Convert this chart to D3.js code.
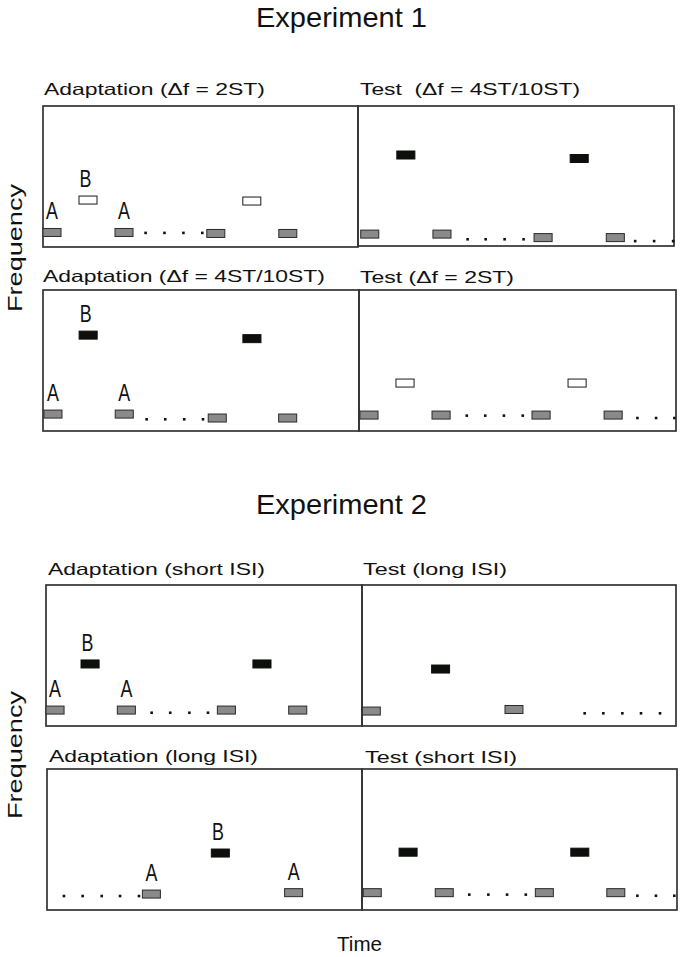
<!DOCTYPE html>
<html>
<head>
<meta charset="utf-8">
<script src="https://cdn.jsdelivr.net/npm/d3@7"></script>
<style>
  html, body { margin: 0; padding: 0; background: #fff; }
  svg { display: block; }
  text { font-family: "Liberation Sans", Arial, Helvetica, sans-serif; fill: #111; white-space: pre; }
</style>
</head>
<body>
<svg id="chart" width="685" height="957"></svg>
<script>
// ---------------- DATA ----------------
const experimentTitles = ["Experiment 1", "Experiment 2"];
const panelTitles = [
  "Adaptation (\u0394f = 2ST)",
  "Test  (\u0394f = 4ST/10ST)",
  "Adaptation (\u0394f = 4ST/10ST)",
  "Test (\u0394f = 2ST)",
  "Adaptation (short ISI)",
  "Test (long ISI)",
  "Adaptation (long ISI)",
  "Test (short ISI)"
];
const axisLabelY = "Frequency";
const axisLabelX = "Time";

// tone onset times (ms) and frequency levels (arbitrary units 0..10) per panel
const aTimes = [
  [0, 400, 910, 1310],
  [15, 415, 975, 1375],
  [5, 400, 915, 1305],
  [5, 403, 955, 1353],
  [0, 395, 949, 1344],
  [2, 797],
  [530, 1320],
  [7, 407, 963, 1360]
];
const aFreqs = [
  [1.03, 1.03, 0.96, 0.96],
  [0.85, 0.85, 0.6, 0.6],
  [1.2, 1.2, 0.92, 0.92],
  [1.13, 1.13, 1.13, 1.13],
  [1.13, 1.13, 1.13, 1.13],
  [1.06, 1.17],
  [1.13, 1.23],
  [1.23, 1.23, 1.23, 1.23]
];
const bTimes = [
  [200, 1110],
  [215, 1175],
  [200, 1107],
  [204, 1154],
  [194, 1146],
  [388],
  [913],
  [206, 1160]
];
const bFreqs = [
  [3.33, 3.26],
  [6.5, 6.25],
  [6.8, 6.55],
  [3.4, 3.4],
  [4.4, 4.4],
  [4.04],
  [4.04],
  [4.1, 4.1]
];
const bKinds = ["open", "filled", "filled", "open", "filled", "filled", "filled", "filled"];
const dotTimes = [
  [570, 675, 780, 885],
  [607, 707, 812, 917, 1535, 1640, 1745],
  [574, 677, 782, 886],
  [595, 697, 800, 904, 1537, 1640, 1741],
  [585, 688, 794, 897],
  [1241, 1345, 1451, 1555, 1661],
  [94, 198, 304, 406, 511],
  [596, 702, 806, 910, 1530, 1633, 1735]
];
const dotFreqs = [
  [1.0, 1.0, 1.0, 1.0],
  [0.48, 0.48, 0.48, 0.48, 0.35, 0.35, 0.35],
  [0.83, 0.83, 0.83, 0.83],
  [1.09, 1.09, 1.09, 1.09, 0.92, 0.92, 0.92],
  [0.94, 0.94, 0.94, 0.94],
  [0.9, 0.9, 0.9, 0.9, 0.9],
  [0.99, 0.99, 0.99, 0.99, 0.99],
  [1.09, 1.09, 1.09, 1.09, 1.01, 1.01, 1.01]
];
// which tones carry letter labels: [number of A tones labelled, number of B tones labelled]
const labelCounts = [[2, 1], [0, 0], [2, 1], [0, 0], [2, 1], [0, 0], [2, 1], [0, 0]];

const TIME_DOMAIN = [0, 1750];
const FREQ_DOMAIN = [0, 10];
const TONE_MS = 100;

// ---------------- LAYOUT / STYLE ----------------
const panelBoxes = [
  {l: 43, r: 358, t: 106, b: 247},
  {l: 358, r: 674, t: 106, b: 246},
  {l: 43, r: 359, t: 290, b: 431},
  {l: 359, r: 676, t: 290, b: 431},
  {l: 46, r: 362, t: 585, b: 726},
  {l: 362, r: 676, t: 585, b: 726},
  {l: 47, r: 362, t: 769, b: 910},
  {l: 362, r: 677, t: 769, b: 910}
];
const titlePos = [
  {x: 44, y: 95, len: 221},
  {x: 360, y: 95, len: 220},
  {x: 43, y: 282, len: 282},
  {x: 360, y: 283, len: 154},
  {x: 48, y: 575, len: 217},
  {x: 363, y: 575, len: 144},
  {x: 49, y: 762, len: 209},
  {x: 365, y: 763, len: 152}
];
const TONE_H = 8;
const style = {
  aFill: "#8a8a8a", aStroke: "#2a2a2a",
  openFill: "#ffffff", openStroke: "#1a1a1a",
  filledFill: "#0c0f0c", filledStroke: "#0c0f0c",
  border: "#333333"
};

const svg = d3.select("#chart");

// Experiment titles
svg.append("text").attr("x", 256).attr("y", 27)
  .attr("font-size", 28.5).attr("textLength", 171).attr("lengthAdjust", "spacingAndGlyphs")
  .text(experimentTitles[0]);
svg.append("text").attr("x", 256).attr("y", 514)
  .attr("font-size", 28.5).attr("textLength", 171).attr("lengthAdjust", "spacingAndGlyphs")
  .text(experimentTitles[1]);

// Frequency labels
[{cx: 22, cy: 248}, {cx: 22, cy: 755}].forEach(p => {
  svg.append("text")
    .attr("transform", `translate(${p.cx},${p.cy}) rotate(-90)`)
    .attr("x", -64).attr("y", 0)
    .attr("font-size", 19.5).attr("textLength", 128).attr("lengthAdjust", "spacingAndGlyphs")
    .text(axisLabelY);
});

// Time label
svg.append("text").attr("x", 337).attr("y", 951)
  .attr("font-size", 21).attr("textLength", 45).attr("lengthAdjust", "spacingAndGlyphs")
  .text(axisLabelX);

panelBoxes.forEach((box, i) => {
  const x = d3.scaleLinear().domain(TIME_DOMAIN).range([box.l, box.r]);
  const y = d3.scaleLinear().domain(FREQ_DOMAIN).range([box.b, box.t]);
  const g = svg.append("g");

  // title
  svg.append("text")
    .attr("x", titlePos[i].x).attr("y", titlePos[i].y)
    .attr("font-size", 16.5)
    .attr("textLength", titlePos[i].len).attr("lengthAdjust", "spacingAndGlyphs")
    .text(panelTitles[i]);

  // frame
  g.append("rect")
    .attr("x", box.l).attr("y", box.t)
    .attr("width", box.r - box.l).attr("height", box.b - box.t)
    .attr("fill", "none").attr("stroke", style.border).attr("stroke-width", 1.7);

  const aData = aTimes[i].map((t, k) => ({t, f: aFreqs[i][k], k}));
  const bData = bTimes[i].map((t, k) => ({t, f: bFreqs[i][k], k}));
  const dData = dotTimes[i].map((t, k) => ({t, f: dotFreqs[i][k]}));

  // A tones
  g.selectAll("rect.a").data(aData).join("rect").attr("class", "a")
    .attr("x", d => x(d.t)).attr("y", d => y(d.f) - TONE_H / 2)
    .attr("width", d => x(d.t + TONE_MS) - x(d.t)).attr("height", TONE_H)
    .attr("fill", style.aFill).attr("stroke", style.aStroke).attr("stroke-width", 1);

  // B tones
  const open = bKinds[i] === "open";
  g.selectAll("rect.b").data(bData).join("rect").attr("class", "b")
    .attr("x", d => x(d.t)).attr("y", d => y(d.f) - TONE_H / 2)
    .attr("width", d => x(d.t + TONE_MS) - x(d.t)).attr("height", TONE_H)
    .attr("fill", open ? style.openFill : style.filledFill)
    .attr("stroke", open ? style.openStroke : style.filledStroke).attr("stroke-width", 1);

  // dots
  g.selectAll("rect.dot").data(dData).join("rect").attr("class", "dot")
    .attr("x", d => x(d.t) - 1.3).attr("y", d => y(d.f) - 1.3)
    .attr("width", 2.6).attr("height", 2.6).attr("fill", "#111");

  // letter labels
  const [nA, nB] = labelCounts[i];
  const labels = aData.slice(0, nA).map(d => ({...d, L: "A", dx: 0}))
    .concat(bData.slice(0, nB).map(d => ({...d, L: "B", dx: -2.5})));
  g.selectAll("text.lab").data(labels).join("text").attr("class", "lab")
    .attr("transform", d => `translate(${(x(d.t) + x(d.t + TONE_MS)) / 2 + d.dx},${y(d.f) - TONE_H / 2 - 9}) scale(0.76,1)`)
    .attr("text-anchor", "middle")
    .attr("font-size", 23.5)
    .text(d => d.L);
});
</script>
</body>
</html>
